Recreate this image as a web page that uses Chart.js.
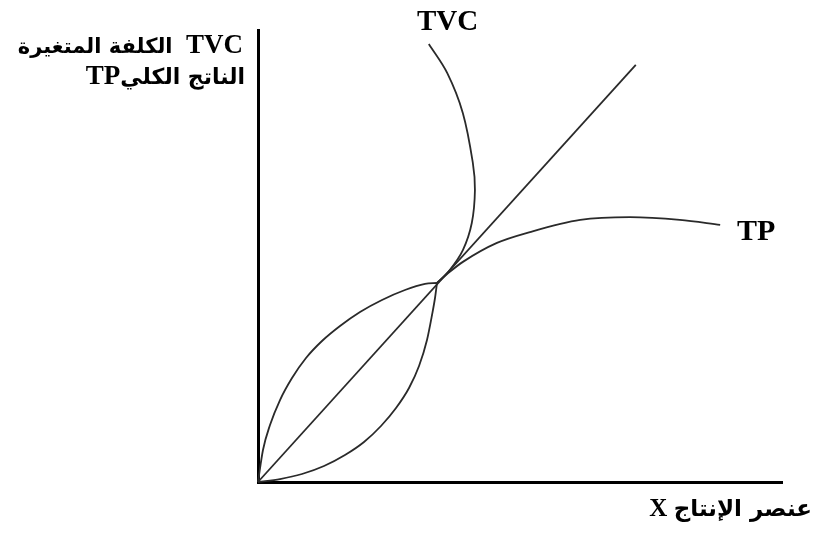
<!DOCTYPE html>
<html>
<head>
<meta charset="utf-8">
<script src="https://cdn.jsdelivr.net/npm/chart.js@4/dist/chart.umd.min.js"></script>
<style>
  html, body { margin: 0; padding: 0; background: #fff; }
  #wrap { position: relative; width: 813px; height: 536px; }
  canvas { position: absolute; left: 0; top: 0; }
  .lbl { position: absolute; font-family: "Liberation Serif", "DejaVu Sans", serif; font-weight: bold; color: #000; white-space: nowrap; }
  .ar { font-family: "DejaVu Sans", sans-serif; }
</style>
</head>
<body>
<div id="wrap">
  <canvas id="c" width="813" height="536"></canvas>
  <div class="lbl" dir="rtl" style="right:570px; top:29px; font-size:27px;">TVC&nbsp; <span class="ar" style="font-size:21px;">الكلفة المتغيرة</span></div>
  <div class="lbl" dir="rtl" style="right:568px; top:60px; font-size:27px;"><span class="ar" style="font-size:22px;">الناتج الكلي</span>TP</div>
  <div class="lbl" style="left:417px; top:4px; font-size:29px;">TVC</div>
  <div class="lbl" style="left:737px; top:213px; font-size:30px;">TP</div>
  <div class="lbl" dir="rtl" style="right:1px; top:494px; font-size:25px;"><span class="ar" style="font-size:23px;">عنصر الإنتاج</span> X</div>
</div>
<script>
// الناتج الكلي TP : الجزء الأسفل ثم الأعلى
var tpLow = [
  {x: 0, y: 0}, {x: 0.95, y: 7.08}, {x: 2.29, y: 12.61}, {x: 4.20, y: 18.14},
  {x: 6.49, y: 23.01}, {x: 9.16, y: 27.43}, {x: 12.21, y: 31.19}, {x: 15.65, y: 34.51},
  {x: 19.47, y: 37.61}, {x: 23.66, y: 40.27}, {x: 28.05, y: 42.48}, {x: 31.87, y: 43.81},
  {x: 34.16, y: 44.03}
];
var tpHigh = [
  {x: 34.16, y: 44.03}, {x: 36.6, y: 46.5}, {x: 39.1, y: 48.7}, {x: 45.6, y: 52.9},
  {x: 51.9, y: 55.3}, {x: 61.5, y: 58.0}, {x: 71.0, y: 58.6}, {x: 80.5, y: 58.0},
  {x: 88.2, y: 56.9}
];

// الكلفة المتغيرة TVC
var tvcLow = [
  {x: 0, y: 0}, {x: 4.20, y: 0.66}, {x: 8.40, y: 1.77}, {x: 12.60, y: 3.54},
  {x: 16.60, y: 5.97}, {x: 20.23, y: 8.85}, {x: 23.47, y: 12.39}, {x: 26.34, y: 16.37},
  {x: 28.82, y: 20.80}, {x: 30.73, y: 25.66}, {x: 32.25, y: 31.42}, {x: 33.21, y: 36.95},
  {x: 33.78, y: 40.71}, {x: 34.16, y: 44.03}
];
var tvcHigh = [
  {x: 34.16, y: 44.03}, {x: 36.6, y: 46.9}, {x: 39.1, y: 51.3}, {x: 40.8, y: 57.3},
  {x: 41.4, y: 64.6}, {x: 41.0, y: 70.6}, {x: 39.1, y: 81.6}, {x: 36.1, y: 90.5},
  {x: 32.6, y: 96.9}
];

// الخط المستقيم من الأصل
var rayPoints = [{x: 0, y: 0}, {x: 72.1, y: 92.3}];

var lineColor = '#2a2a2a';

function curve(pts, mode) {
  var ds = { data: pts, showLine: true, borderColor: lineColor, borderWidth: 1.8, pointRadius: 0, tension: 0 };
  if (mode === 'mono') { ds.cubicInterpolationMode = 'monotone'; ds.tension = 0.4; }
  if (mode === 'smooth') { ds.tension = 0.35; }
  return ds;
}

new Chart(document.getElementById('c'), {
  type: 'scatter',
  data: {
    datasets: [
      curve(tpLow, 'mono'),
      curve(tpHigh, 'mono'),
      curve(tvcLow, 'mono'),
      curve(tvcHigh, 'smooth'),
      curve(rayPoints, 'line')
    ]
  },
  options: {
    responsive: false,
    animation: false,
    clip: false,
    layout: { padding: { left: 258, right: 31, top: 30, bottom: 54 } },
    plugins: { legend: { display: false }, tooltip: { enabled: false } },
    scales: {
      x: {
        min: 0, max: 100,
        ticks: { display: false },
        grid: { display: false, drawTicks: false },
        border: { display: true, color: '#000', width: 3 }
      },
      y: {
        min: 0, max: 100,
        ticks: { display: false },
        grid: { display: false, drawTicks: false },
        border: { display: true, color: '#000', width: 3 }
      }
    }
  }
});
</script>
</body>
</html>
